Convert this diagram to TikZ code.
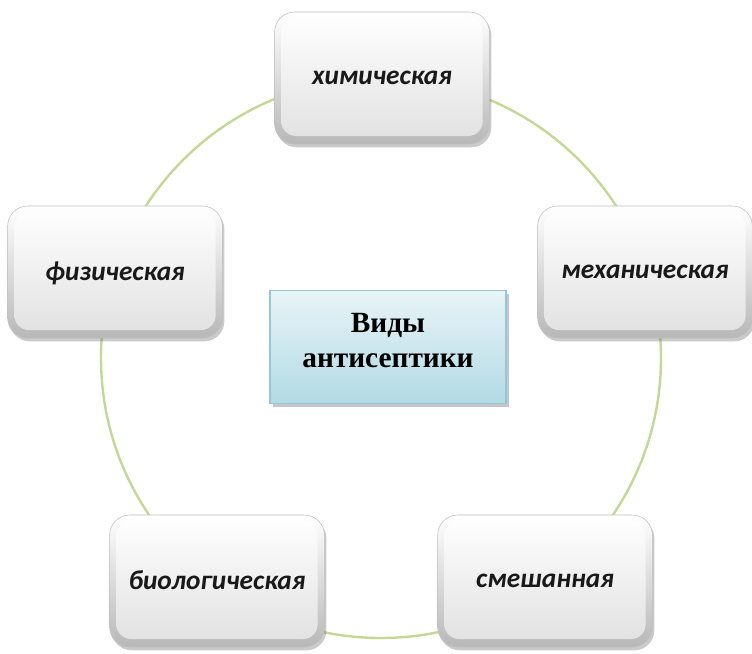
\documentclass[tikz,border=0pt]{standalone}
\usepackage{fontspec}
\newfontfamily\calfont{Carlito}
\newfontfamily\tnrfont{Liberation Serif}
\usetikzlibrary{shadows}
\definecolor{ringgreen}{RGB}{196,216,150}
\definecolor{boxblueA}{RGB}{232,244,248}
\definecolor{boxblueB}{RGB}{178,218,228}
\definecolor{boxedge}{RGB}{146,200,216}
\tikzset{
  petal/.style={rounded corners=15pt, minimum width=161pt, minimum height=99pt,
    draw=black!25, line width=0.4pt, top color=white, bottom color=black!28,
    drop shadow={shadow xshift=1.5pt, shadow yshift=-2.5pt, opacity=0.35, fill=black!60},
    font=\calfont\bfseries\itshape\fontsize{20.5}{24}\selectfont, text=black!90,
    text depth=1pt,
    path picture={\shade[top color=white, bottom color=black!12, rounded corners=11pt]
      ([shift={(5pt,-4pt)}]path picture bounding box.north west) rectangle
      ([shift={(-5pt,6pt)}]path picture bounding box.south east);}},
  hub/.style={minimum width=177pt, minimum height=85pt, draw=boxedge, line width=1.2pt,
    top color=boxblueA, bottom color=boxblueB,
    drop shadow={shadow xshift=2.5pt, shadow yshift=-2.5pt, opacity=0.45, fill=black!50}},
  hubtext/.style={align=center, inner sep=0pt,
    font=\tnrfont\bfseries\fontsize{22}{26}\selectfont},
  ring/.style={draw=ringgreen, line width=1.8pt}
}
\begin{document}
\begin{tikzpicture}[x=0.75pt,y=-0.75pt]
\useasboundingbox (0,0) rectangle (752,653);
\coordinate (c) at (381,358);
\draw[ring] (c) circle[radius=210pt];
\node[hub] (hub) at (388,347) {};
\node[hubtext] (hubtxt) at ([yshift=5pt]hub.center) {Виды\\антисептики};
\node[petal] (chem) at (382,78) {химическая};
\node[petal] (mech) at (645,272) {механическая};
\node[petal] (mix) at (545,581) {смешанная};
\node[petal] (bio) at (217,581) {биологическая};
\node[petal] (phys) at (115,272) {физическая};
\end{tikzpicture}
\end{document}
